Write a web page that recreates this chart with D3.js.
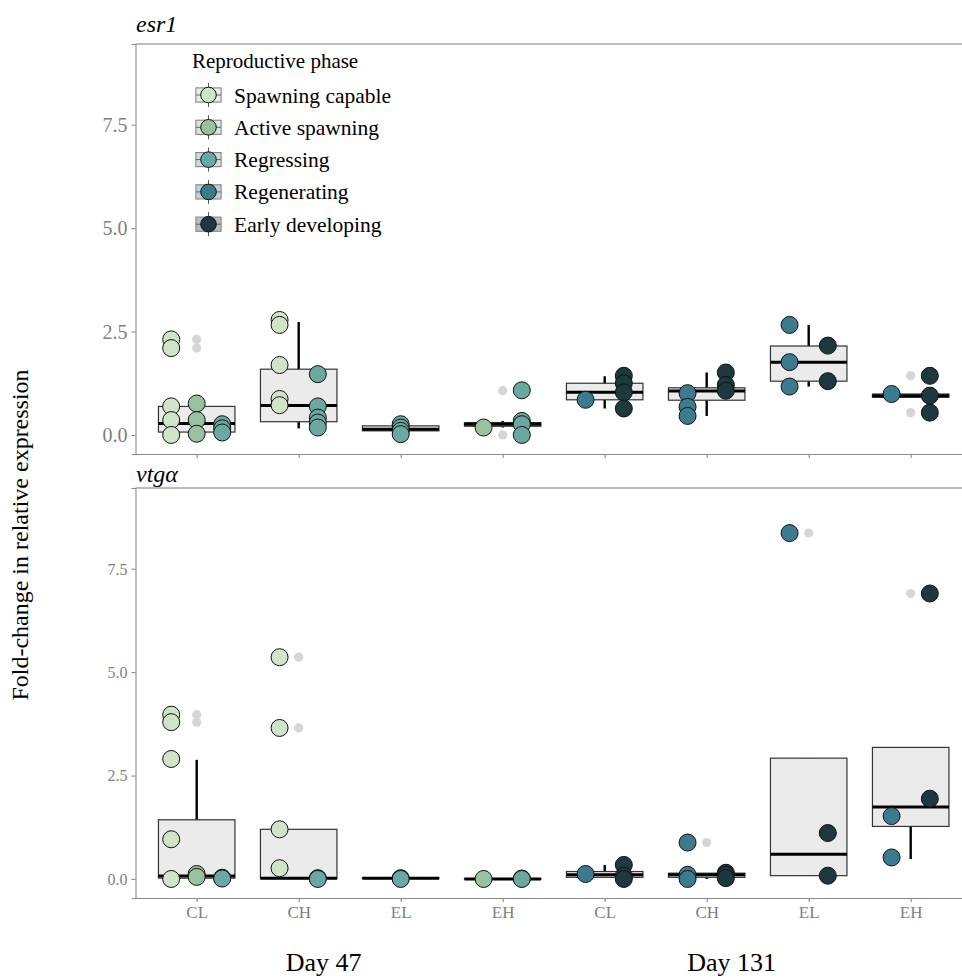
<!DOCTYPE html>
<html><head><meta charset="utf-8">
<script src="https://cdn.jsdelivr.net/npm/d3@7"></script>
<style>body{margin:0;background:#fff}svg{display:block}text{font-family:"Liberation Serif","Times New Roman",serif}</style>
</head><body>
<svg id="chart" width="962" height="979"></svg>
<script>
// ---------- data ----------
const categories = ["CL","CH","EL","EH","CL","CH","EL","EH"];
const dayLabels = ["Day 47","Day 131"];
const phases = ["Spawning capable","Active spawning","Regressing","Regenerating","Early developing"];
const phaseColors = ["#d0e5c8","#98c1a0","#6aa8a1","#3c7b8d","#1e3840"];
const yTicks = [0, 2.5, 5.0, 7.5];

// points: [category index, phase index, values]
const esr1Points = [
  [0,0,[2.31,2.10,0.69,0.36,0.0]],[0,1,[0.76,0.36,0.03]],[0,2,[0.26,0.16,0.06]],
  [1,0,[2.78,2.66,1.69,0.87,0.72]],[1,2,[1.47,0.69,0.42,0.30,0.18]],
  [2,2,[0.26,0.18,0.10,0.02]],
  [3,1,[0.18]],[3,2,[1.08,0.34,0.26,0.0]],
  [4,3,[0.85]],[4,4,[1.43,1.25,1.03,0.64]],
  [5,3,[1.01,0.68,0.46]],[5,4,[1.51,1.21,1.07]],
  [6,3,[2.66,1.76,1.17]],[6,4,[2.16,1.30]],
  [7,3,[0.99]],[7,4,[1.43,0.95,0.54]]
];
const esr1Q1 = [0.07,0.32,0.10,0.21,0.85,0.84,1.30,0.91];
const esr1Median = [0.28,0.71,0.14,0.26,1.03,1.06,1.76,0.95];
const esr1Q3 = [0.69,1.59,0.22,0.30,1.25,1.14,2.15,0.99];
const esr1WhiskerLow = [0.0,0.16,0.02,0.18,0.64,0.46,1.17,0.91];
const esr1WhiskerHigh = [0.76,2.73,0.26,0.34,1.42,1.51,2.66,0.99];
const esr1Outliers = [[0,2.31],[0,2.10],[3,1.07],[3,0.0],[7,1.43],[7,0.54]];

const vtgPoints = [
  [0,0,[3.97,3.79,2.90,0.96,0.0]],[0,1,[0.12,0.05]],[0,2,[0.03,0.01]],
  [1,0,[5.36,3.65,1.20,0.26]],[1,2,[0.02,0.0]],
  [2,2,[0.02,0.0]],
  [3,1,[0.0]],[3,2,[0.01,0.0]],
  [4,3,[0.12]],[4,4,[0.34,0.08,0.0]],
  [5,3,[0.88,0.10,0.0]],[5,4,[0.15,0.10,0.02]],
  [6,3,[8.36]],[6,4,[1.11,0.08]],
  [7,3,[1.52,0.52]],[7,4,[6.90,1.94]]
];
const vtgQ1 = [0.02,0.01,0.01,0.0,0.04,0.04,0.08,1.27];
const vtgMedian = [0.07,0.02,0.02,0.0,0.10,0.10,0.60,1.74];
const vtgQ3 = [1.43,1.20,0.03,0.01,0.18,0.14,2.92,3.18];
const vtgWhiskerLow = [0.0,0.0,0.0,0.0,0.04,0.0,0.08,0.48];
const vtgWhiskerHigh = [2.88,1.20,0.03,0.01,0.34,0.14,2.92,3.18];
const vtgOutliers = [[0,3.97],[0,3.79],[1,5.36],[1,3.65],[5,0.88],[6,8.36],[7,6.90]];

// ---------- layout ----------
const svg = d3.select("#chart");
const left = 135.5, catStep = 102;
const x = d3.scaleLinear().domain([0.4, 8.6]).range([left, left + 8.2*catStep]);
const boxW = 0.75 * catStep;
const yDomain = [-0.46, 9.45];
const axisColor = "#8a8a8a", tickText = "#7f7f7f";

const panels = [
  {title:"esr1", top:44, bottom:454, tickFont:20, titleY:32, points:esr1Points, q1:esr1Q1, med:esr1Median, q3:esr1Q3, wl:esr1WhiskerLow, wh:esr1WhiskerHigh, out:esr1Outliers, xlabels:false},
  {title:"vtgα", top:488, bottom:898, tickFont:16, titleY:482, points:vtgPoints, q1:vtgQ1, med:vtgMedian, q3:vtgQ3, wl:vtgWhiskerLow, wh:vtgWhiskerHigh, out:vtgOutliers, xlabels:true}
];

panels.forEach(p => {
  const y = d3.scaleLinear().domain(yDomain).range([p.bottom, p.top]);
  const g = svg.append("g");
  g.append("line").attr("x1", left).attr("x2", 962).attr("y1", p.top).attr("y2", p.top)
    .attr("stroke", "#a6a6a6").attr("stroke-width", 1.3);
  const ya = g.append("g").attr("transform", `translate(${left},0)`)
    .call(d3.axisLeft(y).tickValues(yTicks).tickFormat(d3.format(".1f")).tickSizeOuter(0).tickSize(4));
  ya.select(".domain").attr("stroke", axisColor).attr("stroke-width", 1.1);
  ya.selectAll(".tick line").attr("stroke", axisColor).attr("stroke-width", 1.1);
  ya.selectAll(".tick text").attr("fill", tickText).attr("font-size", p.tickFont)
    .attr("font-family", "Liberation Serif").attr("x", -8).attr("dy", "0.34em");
  const xa = g.append("g").attr("transform", `translate(0,${p.bottom})`)
    .call(d3.axisBottom(x).tickValues(d3.range(1, 9)).tickSizeOuter(0).tickSize(4)
      .tickFormat(d => p.xlabels ? categories[d-1] : ""));
  xa.select(".domain").attr("stroke", axisColor).attr("stroke-width", 1.1)
    .attr("d", `M${left},0.5H962`);
  xa.selectAll(".tick line").attr("stroke", axisColor).attr("stroke-width", 1.1);
  xa.selectAll(".tick text").attr("fill", tickText).attr("font-size", 17)
    .attr("font-family", "Liberation Serif").attr("y", 7).attr("dy", "0.75em");
  g.append("text").attr("x", 136).attr("y", p.titleY).attr("font-size", 24)
    .attr("font-style", "italic").attr("fill", "#000").text(p.title);

  const idx = d3.range(8);
  g.selectAll(".whisk").data(idx).join("line")
    .attr("x1", i => x(i+1)).attr("x2", i => x(i+1))
    .attr("y1", i => y(p.wl[i])).attr("y2", i => y(p.wh[i]))
    .attr("stroke", "#000").attr("stroke-width", 2.4);
  g.selectAll(".box").data(idx).join("rect")
    .attr("x", i => x(i+1) - boxW/2).attr("width", boxW)
    .attr("y", i => y(p.q3[i])).attr("height", i => Math.max(0.5, y(p.q1[i]) - y(p.q3[i])))
    .attr("fill", "#ebebeb").attr("stroke", "#333").attr("stroke-width", 1.2);
  g.selectAll(".med").data(idx).join("line")
    .attr("x1", i => x(i+1) - boxW/2).attr("x2", i => x(i+1) + boxW/2)
    .attr("y1", i => y(p.med[i])).attr("y2", i => y(p.med[i]))
    .attr("stroke", "#000").attr("stroke-width", 3);
  g.selectAll(".out").data(p.out).join("circle")
    .attr("cx", d => x(d[0]+1)).attr("cy", d => y(d[1])).attr("r", 4.6)
    .attr("fill", "#d6d6d6");
  const groups = d3.group(p.points, d => d[0]);
  const pts = [];
  groups.forEach((arr, cat) => {
    const ph = arr.map(a => a[1]).sort((a,b)=>a-b);
    const n = ph.length;
    arr.forEach(a => {
      const j = ph.indexOf(a[1]);
      const off = (j - (n-1)/2) * (0.75/n);
      a[2].forEach(v => pts.push({cx: cat+1+off, v, phase: a[1]}));
    });
  });
  g.selectAll(".pt").data(pts).join("circle")
    .attr("cx", d => x(d.cx)).attr("cy", d => y(d.v)).attr("r", 8.5)
    .attr("fill", d => phaseColors[d.phase]).attr("stroke", "#111").attr("stroke-width", 1);
});

svg.append("text").attr("transform", "translate(28,535) rotate(-90)")
  .attr("text-anchor", "middle").attr("font-size", 24).attr("fill", "#000")
  .text("Fold-change in relative expression");
const dayCenters = [2.5, 6.5];
dayLabels.forEach((t, i) => {
  svg.append("text").attr("x", x(dayCenters[i]) - 26).attr("y", 971)
    .attr("text-anchor", "middle").attr("font-size", 26).attr("fill", "#000").text(t);
});

const lg = svg.append("g");
lg.append("text").attr("x", 192).attr("y", 68).attr("font-size", 21).attr("fill", "#000")
  .text("Reproductive phase");
phases.forEach((ph, i) => {
  const cy = 95 + i*32.3;
  const it = lg.append("g");
  it.append("line").attr("x1", 208.5).attr("x2", 208.5).attr("y1", cy-12).attr("y2", cy+12)
    .attr("stroke", "#555").attr("stroke-width", 1);
  it.append("rect").attr("x", 196).attr("y", cy-7).attr("width", 25).attr("height", 14)
    .attr("fill", phaseColors[i]).attr("fill-opacity", 0.45).attr("stroke", "#777").attr("stroke-width", 1.2);
  it.append("rect").attr("x", 196).attr("y", cy-7).attr("width", 25).attr("height", 14)
    .attr("fill", "#ebebeb").attr("fill-opacity", 0.35).attr("stroke", "none");
  it.append("line").attr("x1", 196).attr("x2", 221).attr("y1", cy).attr("y2", cy)
    .attr("stroke", "#666").attr("stroke-width", 1);
  it.append("circle").attr("cx", 208.5).attr("cy", cy).attr("r", 7.8)
    .attr("fill", phaseColors[i]).attr("stroke", "#111").attr("stroke-width", 1);
  it.append("text").attr("x", 234).attr("y", cy).attr("dy", "0.35em").attr("font-size", 21.5)
    .attr("fill", "#000").text(ph);
});
</script>
</body></html>
